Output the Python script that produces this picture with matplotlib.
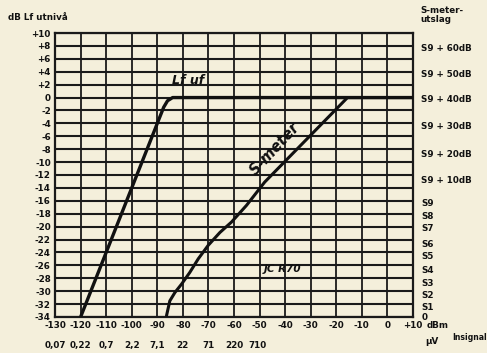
import matplotlib
matplotlib.use("Agg")
import matplotlib.pyplot as plt
import matplotlib.transforms as mtransforms

# ---- data ----
x_ticks_dbm = [-130, -120, -110, -100, -90, -80, -70, -60, -50, -40, -30, -20, -10, 0, 10]
x_tick_labels = ["-130", "-120", "-110", "-100", "-90", "-80", "-70", "-60", "-50",
                 "-40", "-30", "-20", "-10", "0", "+10"]
uv_positions = [-130, -120, -110, -100, -90, -80, -70, -60, -51]
uv_labels = ["0,07", "0,22", "0,7", "2,2", "7,1", "22", "71", "220", "710"]

y_ticks_db = list(range(10, -35, -2))
y_tick_labels = [("+%d" % v if v > 0 else str(v)) for v in y_ticks_db]

s_positions = [-34, -32.3, -30.5, -28.6, -26.6, -24.5, -22.6, -20.2, -18.3, -16.3,
               -12.7, -8.6, -4.3, -0.2, 3.8, 7.8]
s_labels = ["0", "S1", "S2", "S3", "S4", "S5", "S6", "S7", "S8", "S9",
            "S9 + 10dB", "S9 + 20dB", "S9 + 30dB", "S9 + 40dB", "S9 + 50dB", "S9 + 60dB"]

lf_x = [-120, -110, -100, -93, -89, -87.5, -86, -84, -80, -70, -40, 0, 10]
lf_y = [-34, -24, -14, -7, -3, -1.5, -0.5, 0, 0, 0, 0, 0, 0]

sm_x = [-86.4, -85.1, -83.1, -80.5, -77.3, -74.0, -70.1, -65.5, -61.0, -55.1, -48.0,
        -15.6, 0, 10]
sm_y = [-33.8, -31.5, -30.2, -28.9, -27.1, -25.0, -22.9, -20.9, -19.3, -16.7, -13.1,
        0, 0, 0]

bg = "#f4efdb"
fig = plt.figure(figsize=(4.87, 3.53), dpi=100, facecolor=bg)
ax = fig.add_axes([0.113, 0.102, 0.735, 0.8045])
ax.set_facecolor(bg)
ax.set_xlim(-130, 10)
ax.set_ylim(-34, 10)

fs = 6.3
for v in x_ticks_dbm:
    ax.axvline(v, color="#1a1a1a", lw=1.3, zorder=1)
for v in y_ticks_db:
    ax.axhline(v, color="#1a1a1a", lw=1.5, zorder=1)
for s in ax.spines.values():
    s.set_linewidth(1.6)
    s.set_color("#1a1a1a")

ax.plot(lf_x, lf_y, color="#111111", lw=2.4, solid_capstyle="round", zorder=3)
ax.plot(sm_x, sm_y, color="#111111", lw=2.2, solid_capstyle="round", zorder=3)

ax.set_xticks(x_ticks_dbm, x_tick_labels)
ax.set_yticks(y_ticks_db, y_tick_labels)
ax.tick_params(length=0, pad=3, labelsize=fs, colors="#111111")
for lab in ax.get_xticklabels() + ax.get_yticklabels():
    lab.set_fontweight("bold")

trans = mtransforms.blended_transform_factory(ax.transData, ax.transAxes)
for p, l in zip(uv_positions, uv_labels):
    ax.text(p, -0.085, l, transform=trans, ha="center", va="top",
            fontsize=fs, fontweight="bold", color="#111111")

ax2 = ax.twinx()
ax2.set_ylim(-34, 10)
ax2.set_yticks(s_positions, s_labels)
ax2.tick_params(length=0, pad=6, labelsize=fs, colors="#111111")
for lab in ax2.get_yticklabels():
    lab.set_fontweight("bold")
for s in ax2.spines.values():
    s.set_visible(False)

fig.text(8 / 487, 1 - 17 / 353, "dB Lf utnivå", fontsize=fs, fontweight="bold",
         ha="left", va="center", color="#111111")
fig.text(420 / 487, 1 - 15 / 353, "S-meter-\nutslag", fontsize=fs, fontweight="bold",
         ha="left", va="center", color="#111111", linespacing=0.95)
fig.text(427 / 487, 1 - 326 / 353, "dBm", fontsize=fs, fontweight="bold",
         ha="left", va="center", color="#111111")
fig.text(425 / 487, 1 - 342 / 353, "µV", fontsize=fs, fontweight="bold",
         ha="left", va="center", color="#111111")
fig.text(452 / 487, 1 - 338 / 353, "Insignal", fontsize=5.6, fontweight="bold",
         ha="left", va="center", color="#111111")

ax.text(-78, 2.6, "Lf uf", fontsize=9, fontweight="bold", fontstyle="italic",
        ha="center", va="center", color="#111111", zorder=4)
ax.text(-44, -8.0, "S-meter", fontsize=10.5, fontweight="bold", fontstyle="italic",
        ha="center", va="center", rotation=47, color="#111111", zorder=4)
ax.text(-41, -26.6, "JC R70", fontsize=7.5, fontweight="bold", fontstyle="italic",
        ha="center", va="center", color="#111111", zorder=4)

fig.savefig("out.png", dpi=100, facecolor=bg)
